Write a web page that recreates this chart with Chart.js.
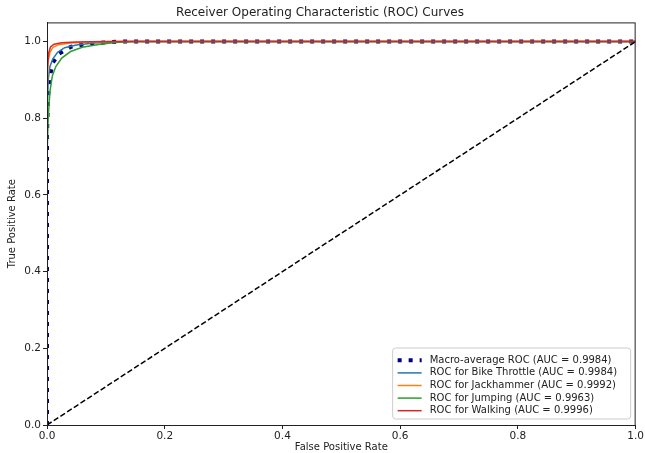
<!DOCTYPE html>
<html>
<head>
<meta charset="utf-8">
<script src="https://cdn.jsdelivr.net/npm/chart.js@4"></script>
<style>
  html, body { margin: 0; padding: 0; background: #fff; }
  #wrap { width: 645px; height: 453px; }
</style>
</head>
<body>
<div id="wrap"><canvas id="roc" width="645" height="453"></canvas></div>
<script>
/* ─── Data ─── */
const xTicks = [0, 0.2, 0.4, 0.6, 0.8, 1.0];
const yTicks = [0, 0.2, 0.4, 0.6, 0.8, 1.0];

const macroFpr = [0, 0, 0.002, 0.005, 0.01, 0.02, 0.04, 0.07, 0.12, 1];
const macroTpr = [0, 0.76, 0.86, 0.91, 0.945, 0.968, 0.986, 0.995, 1, 1];

const bikeFpr = [0, 0, 0.002, 0.005, 0.01, 0.018, 0.03, 0.05, 0.08, 0.13, 1];
const bikeTpr = [0, 0.8, 0.9, 0.935, 0.955, 0.972, 0.984, 0.991, 0.996, 1, 1];

const jackFpr = [0, 0, 0.002, 0.005, 0.01, 0.02, 0.04, 0.08, 0.12, 1];
const jackTpr = [0, 0.86, 0.95, 0.972, 0.985, 0.992, 0.996, 0.999, 1, 1];

const jumpFpr = [0, 0, 0.002, 0.005, 0.009, 0.015, 0.025, 0.04, 0.06, 0.09, 0.12, 0.15, 1];
const jumpTpr = [0, 0.7, 0.8, 0.87, 0.91, 0.935, 0.957, 0.974, 0.985, 0.993, 0.998, 1, 1];

const walkFpr = [0, 0, 0.001, 0.003, 0.006, 0.012, 0.025, 0.05, 0.1, 1];
const walkTpr = [0, 0.6, 0.93, 0.972, 0.986, 0.993, 0.997, 0.999, 1, 1];

const chanceFpr = [0, 1];
const chanceTpr = [0, 1];

const pts = (xs, ys) => xs.map((x, i) => ({ x: x, y: ys[i] }));

/* ─── Frame + legend box ─── */
const framePlugin = {
  id: "frame",
  afterDraw(chart) {
    const c = chart.ctx;
    const a = chart.chartArea;
    c.save();
    c.strokeStyle = "#222";
    c.lineWidth = 1;
    c.strokeRect(a.left + 0.5, a.top + 0.5, a.right - a.left - 1, a.bottom - a.top);

    // legend, lower right
    const items = chart.data.datasets.filter((d) => d.label);
    const boxW = 238, rowH = 12.6, boxH = items.length * rowH + 8;
    const bx = a.right - boxW - 5, by = a.bottom - boxH - 6;
    c.fillStyle = "rgba(255,255,255,0.85)";
    c.strokeStyle = "#ccc";
    c.beginPath();
    c.roundRect(bx, by, boxW, boxH, 3);
    c.fill();
    c.stroke();
    c.font = "10px 'DejaVu Sans'";
    c.textBaseline = "middle";
    items.forEach((d, i) => {
      const y = by + 6 + rowH * i + rowH / 2;
      c.strokeStyle = d.borderColor;
      c.lineWidth = d.borderWidth;
      c.setLineDash(d.borderDash || []);
      c.beginPath();
      c.moveTo(bx + 5, y);
      c.lineTo(bx + 29, y);
      c.stroke();
      c.setLineDash([]);
      c.fillStyle = "#222";
      c.fillText(d.label, bx + 37, y);
    });
    c.restore();
  },
};

const line = (label, xs, ys, color, width, dash, order) => ({
  label: label,
  data: pts(xs, ys),
  borderColor: color,
  backgroundColor: color,
  borderWidth: width,
  borderDash: dash,
  borderCapStyle: "butt",
  showLine: true,
  pointRadius: 0,
  tension: 0,
  order: order,
});

new Chart(document.getElementById("roc"), {
  type: "scatter",
  data: {
    datasets: [
      line("Macro-average ROC (AUC = 0.9984)", macroFpr, macroTpr, "#000080", 4, [4, 7], 6),
      line("ROC for Bike Throttle (AUC = 0.9984)", bikeFpr, bikeTpr, "#1f77b4", 1.5, [], 5),
      line("ROC for Jackhammer (AUC = 0.9992)", jackFpr, jackTpr, "#ff7f0e", 1.5, [], 4),
      line("ROC for Jumping (AUC = 0.9963)", jumpFpr, jumpTpr, "#2ca02c", 1.5, [], 3),
      line("ROC for Walking (AUC = 0.9996)", walkFpr, walkTpr, "#d62728", 1.5, [], 2),
      line("", chanceFpr, chanceTpr, "#000", 1.5, [5.5, 2.5], 1),
    ],
  },
  options: {
    responsive: false,
    animation: false,
    layout: { padding: { left: 0, right: 5, top: 0, bottom: 0 } },
    plugins: {
      legend: { display: false },
      tooltip: { enabled: false },
      title: {
        display: true,
        text: "Receiver Operating Characteristic (ROC) Curves",
        color: "#222",
        font: { family: "DejaVu Sans", size: 12, weight: "normal" },
        padding: { top: 6, bottom: 2 },
      },
    },
    scales: {
      x: {
        type: "linear",
        min: 0,
        max: 1,
        afterBuildTicks: (s) => { s.ticks = xTicks.map((v) => ({ value: v })); },
        afterFit: (s) => { s.height = 28; },
        border: { display: true, color: "#222", width: 1 },
        grid: { display: true, drawOnChartArea: false, drawTicks: true, tickLength: 4, color: "#222" },
        ticks: {
          color: "#222",
          padding: 1,
          maxRotation: 0,
          font: { family: "DejaVu Sans", size: 10.5 },
          callback: (v) => v.toFixed(1),
        },
        title: {
          display: true,
          text: "False Positive Rate",
          color: "#222",
          font: { family: "DejaVu Sans", size: 10 },
          padding: { top: 0, bottom: 0 },
        },
      },
      y: {
        type: "linear",
        min: 0,
        max: 1.05,
        afterBuildTicks: (s) => { s.ticks = yTicks.map((v) => ({ value: v })); },
        afterFit: (s) => { s.width = 47; },
        border: { display: true, color: "#222", width: 1 },
        grid: { display: true, drawOnChartArea: false, drawTicks: true, tickLength: 4, color: "#222" },
        ticks: {
          color: "#222",
          padding: 2,
          font: { family: "DejaVu Sans", size: 10.5 },
          callback: (v) => v.toFixed(1),
        },
        title: {
          display: true,
          text: "True Positive Rate",
          color: "#222",
          font: { family: "DejaVu Sans", size: 10 },
          padding: { top: 6, bottom: 0 },
        },
      },
    },
  },
  plugins: [framePlugin],
});
</script>
</body>
</html>
